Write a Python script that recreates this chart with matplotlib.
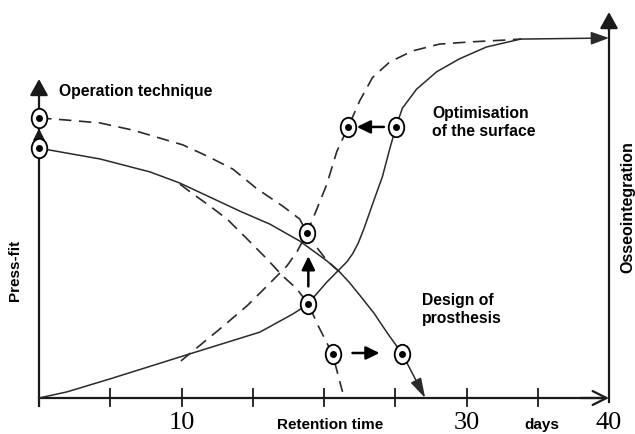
import matplotlib
matplotlib.use("Agg")
import matplotlib.pyplot as plt
from matplotlib.path import Path
import numpy as np

# --- data (x in days, y in % of full osseointegration) ---
osseo_x = [0, 1.96, 4.98, 9.89, 15.5, 17.8, 18.9, 19.3, 20.2, 21.1, 21.6, 22.0, 22.4,
           22.8, 23.2, 23.6, 24.1, 24.6, 25.05, 25.5, 26.5, 27.9, 29.5, 31.4, 33.8]
osseo_y = [0, 1.7, 5.3, 11.4, 18.3, 23.3, 26.1, 28.1, 32.2, 35.8, 37.8, 40.0, 43.0,
           47.0, 51.5, 56.0, 61.5, 69.0, 75.3, 80.5, 85.8, 90.6, 94.2, 97.5, 99.7]

osseo_fast_x = [9.96, 12.7, 14.6, 16.0, 17.4, 18.1, 18.8, 19.5, 20.2, 20.9, 21.7,
                22.5, 23.4, 24.6, 26.2, 28.1, 30.2, 32.6, 33.8]
osseo_fast_y = [10.3, 19.2, 25.6, 31.1, 36.7, 40.6, 45.8, 52.5, 59.4, 68.5, 75.3,
                82.5, 89.0, 93.3, 96.4, 98.3, 98.9, 99.4, 99.7]

press_x = [0, 4.28, 7.79, 9.89, 14.1, 16.2, 18.3, 20.2, 21.1, 21.8, 22.5, 23.5,
           24.4, 25.5, 27.1]
press_y = [69.4, 66.4, 62.8, 59.7, 51.9, 48.3, 43.6, 38.1, 35.0, 32.0, 28.6, 23.6,
           18.3, 12.2, 0]

press_op_x = [0, 1.96, 4.28, 6.6, 10.1, 11.8, 13.6, 15.3, 17.1, 18.3, 18.8, 19.5,
              20.2, 21.1]
press_op_y = [77.8, 77.2, 76.4, 74.4, 70.3, 67.2, 63.6, 58.1, 53.3, 49.7, 45.8,
              41.8, 38.2, 35.0]

press_design_x = [9.89, 10.8, 12.0, 13.2, 14.6, 16.0, 17.1, 18.1, 18.9, 19.6, 20.6, 21.3]
press_design_y = [59.4, 56.7, 53.3, 49.7, 44.2, 38.6, 33.9, 30.3, 26.1, 20.0, 12.2, 1.7]

marker_x = [0, 0, 18.8, 18.9, 21.7, 25.05, 20.6, 25.5]
marker_y = [77.8, 69.4, 45.8, 26.1, 75.3, 75.3, 12.2, 12.2]

tick_pos = [5, 10, 15, 20, 25, 30, 35]
tick_labels = {10: "10", 30: "30", 40: "40"}

fig = plt.figure(figsize=(6.35, 4.35), dpi=100)
ax = fig.add_axes([39 / 635, 36 / 435, 570 / 635, 360 / 435])
ax.set_xlim(0, 40)
ax.set_ylim(0, 100)
ax.axis("off")

axis_col = "#1a1a1a"
curve_col = "#2a2a2a"
dash = (0, (7.5, 4.5))

def arrow(x0, y0, x1, y1, style="-|>", ms=20, lw=1.5, col="black"):
    ax.annotate("", xy=(x1, y1), xytext=(x0, y0),
                arrowprops=dict(arrowstyle=style, mutation_scale=ms, lw=lw,
                                color=col, shrinkA=0, shrinkB=0),
                annotation_clip=False)

# axes
ax.plot([0, 0], [-2.2, 85], color=axis_col, lw=1.6, clip_on=False)
arrow(0, 84, 0, 88.6, "-|>,head_length=0.45,head_width=0.25", 22, 1.6, axis_col)
ax.plot([40, 40], [-1.2, 103], color=axis_col, lw=1.6, clip_on=False)
arrow(40, 102, 40, 107.2, "-|>,head_length=0.45,head_width=0.25", 22, 1.6, axis_col)
ax.plot([0, 39.5], [0, 0], color=axis_col, lw=1.6, clip_on=False)
arrow(38, 0, 40, 0, "->,head_length=0.5,head_width=0.25", 20, 1.6, axis_col)
for t in tick_pos:
    ax.plot([t, t], [-2.2, 2.5], color=axis_col, lw=1.3, clip_on=False)

# small arrow on the press-fit axis between the two start points
arrow(0, 71.5, 0, 74.9, "-|>,head_length=0.4,head_width=0.2", 18, 1.2, axis_col)

# curves
ax.plot(osseo_x, osseo_y, color=curve_col, lw=1.1, clip_on=False)
arrow(osseo_x[-1], osseo_y[-1], 40, 100, "-|>,head_length=0.5,head_width=0.18", 22, 1.1, curve_col)
ax.plot(osseo_fast_x, osseo_fast_y, color=curve_col, lw=1.2, ls=dash, clip_on=False)

ax.plot(press_x[:-1], press_y[:-1], color=curve_col, lw=1.1, clip_on=False)
arrow(press_x[-2], press_y[-2], press_x[-1], press_y[-1],
      "-|>,head_length=0.55,head_width=0.16", 22, 1.1, curve_col)
ax.plot(press_op_x, press_op_y, color=curve_col, lw=1.2, ls=dash, clip_on=False)
ax.plot(press_design_x, press_design_y, color=curve_col, lw=1.2, ls=dash, clip_on=False)

# improvement arrows
arrow(18.9, 31.0, 18.9, 39.4, "-|>,head_length=0.45,head_width=0.22", 18, 1.8)
arrow(24.2, 75.3, 22.3, 75.3, "-|>,head_length=0.45,head_width=0.22", 18, 1.8)
arrow(22.0, 12.5, 23.9, 12.5, "-|>,head_length=0.45,head_width=0.22", 18, 1.8)

# circled markers (slightly tall ellipses with a dot)
ell = Path.unit_circle()
ell = Path(ell.vertices * np.array([0.8, 1.0]), ell.codes)
ax.plot(marker_x, marker_y, ls="none", marker=ell, ms=14, mfc="white",
        mec="black", mew=1.3, clip_on=False, zorder=5)
ax.plot(marker_x, marker_y, ls="none", marker="o", ms=4, color="black",
        clip_on=False, zorder=6)

# tick labels and texts
serif = "Liberation Serif"
sans = "Liberation Sans"
for v, s in tick_labels.items():
    ax.text(v, -6.6, s, ha="center", va="center", fontsize=19, family=serif)
ax.text(20.4, -7.2, "Retention time", ha="center", va="center", fontsize=11,
        family=sans, weight="bold")
ax.text(35.3, -7.2, "days", ha="center", va="center", fontsize=11,
        family=sans, weight="bold")

ax.text(1.4, 85.3, "Operation technique", ha="left", va="center", fontsize=11.3,
        family=sans, weight="bold")
ax.text(27.6, 79.4, "Optimisation", ha="left", va="center", fontsize=11.3,
        family=sans, weight="bold")
ax.text(27.6, 74.2, "of the surface", ha="left", va="center", fontsize=11.3,
        family=sans, weight="bold")
ax.text(26.9, 27.5, "Design of", ha="left", va="center", fontsize=11.3,
        family=sans, weight="bold")
ax.text(26.9, 22.5, "prosthesis", ha="left", va="center", fontsize=11.3,
        family=sans, weight="bold")
ax.text(-1.65, 35.8, "Press-fit", ha="center", va="center", rotation=90,
        fontsize=11, family=sans, weight="bold")
ax.text(41.3, 53.3, "Osseointegration", ha="center", va="center", rotation=90,
        fontsize=11.5, family=sans, weight="bold")

fig.savefig("out.png", dpi=100)
